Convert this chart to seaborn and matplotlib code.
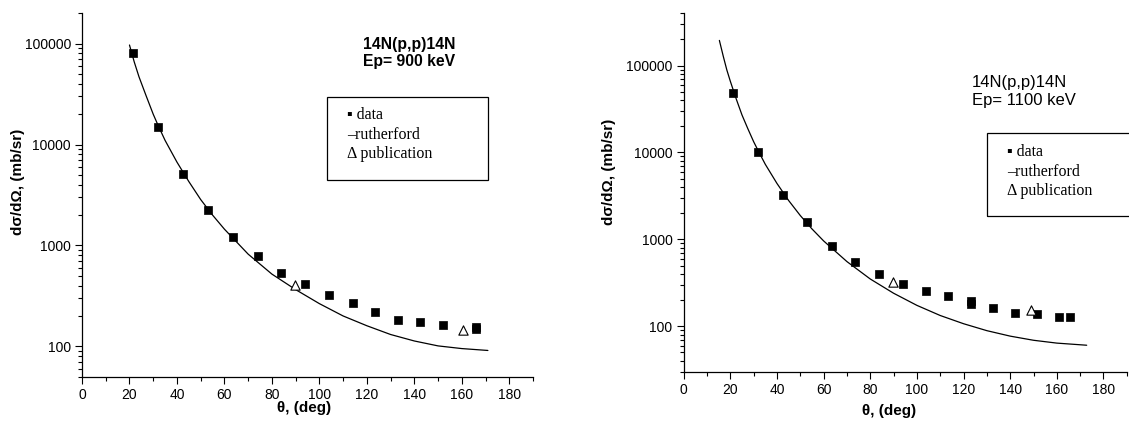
import matplotlib
matplotlib.use("Agg")
import matplotlib.pyplot as plt
from matplotlib.patches import Rectangle
from matplotlib.ticker import MultipleLocator, LogLocator, FuncFormatter, NullFormatter
import seaborn as sns

# ---------------- data: Ep = 900 keV ----------------
theta_900 = [21.5, 32, 42.7, 53, 63.5, 74, 84, 94, 104, 114, 123.5, 133, 142.5, 152, 166, 166]
data_900 = [81500, 15000, 5100, 2260, 1200, 778, 533, 418, 320, 269, 217, 184, 173, 163, 148, 155]
pub_theta_900 = [89.7, 160.5]
pub_900 = [408, 145]
ruth_theta_900 = [20, 22, 24, 27, 30, 32, 35, 40, 45, 50, 55, 60, 70, 80, 90, 100, 110, 120, 130,
                  140, 150, 160, 171]
ruth_900 = [97000, 66000, 47000, 30500, 20000, 15600, 11000, 6700, 4300, 2850, 2000, 1450, 820, 520,
            365, 265, 200, 160, 131, 113, 101, 95, 91]

# ---------------- data: Ep = 1100 keV ----------------
theta_1100 = [21.3, 32, 42.7, 53, 63.5, 73.5, 83.9, 93.9, 103.8, 113.5, 123.1, 123.1, 132.8, 142.1,
              151.6, 160.9, 165.6]
data_1100 = [49000, 10200, 3260, 1570, 838, 545, 400, 310, 257, 221, 197, 181, 161, 141, 139, 128, 128]
pub_theta_1100 = [89.6, 148.8]
pub_1100 = [324, 154]
ruth_theta_1100 = [15.3, 17, 18.5, 20, 22.5, 25, 27.5, 30, 32, 35, 40, 45, 50, 55, 60, 70, 80, 90,
                   100, 110, 120, 130, 140, 150, 160, 172.8]
ruth_1100 = [195000, 127000, 89000, 66000, 41500, 27000, 18800, 13300, 10400, 7300, 4400, 2800, 1880,
             1320, 960, 555, 350, 240, 174, 133, 107, 89, 77, 69, 64, 60.5]

titles = [("14N(p,p)14N\nEp= 900 keV", "bold"), ("14N(p,p)14N\nEp= 1100 keV", "normal")]
legend_text = "\u25aa data\n\u2013rutherford\n\u0394 publication"
xlabel = "\u03b8, (deg)"
ylabel = "d\u03c3/d\u03a9, (mb/sr)"
xticks = [0, 20, 40, 60, 80, 100, 120, 140, 160, 180]

sns.set_style("ticks")
plt.rcParams["font.family"] = ["Liberation Sans", "DejaVu Sans"]
plt.rcParams["text.color"] = "black"
plt.rcParams["axes.labelcolor"] = "black"
plt.rcParams["xtick.color"] = "black"
plt.rcParams["ytick.color"] = "black"

W, H = 1129, 421
fig = plt.figure(figsize=(W / 100, H / 100), dpi=100)
ax1 = fig.add_axes([82 / W, 1 - 376.7 / H, 451 / W, 363.4 / H])
ax2 = fig.add_axes([683.7 / W, 1 - 371.7 / H, 443.1 / W, 358.4 / H])

panels = [
    (ax1, theta_900, data_900, pub_theta_900, pub_900, ruth_theta_900, ruth_900, (50, 200000)),
    (ax2, theta_1100, data_1100, pub_theta_1100, pub_1100, ruth_theta_1100, ruth_1100, (30, 400000)),
]

for ax, th, d, pth, p, rth, r, ylim in panels:
    sns.lineplot(x=rth, y=r, ax=ax, color="black", linewidth=0.9, sort=False, estimator=None)
    sns.scatterplot(x=th, y=d, ax=ax, marker="s", s=32, color="black", edgecolor="black",
                    linewidth=0.5, zorder=3)
    sns.scatterplot(x=pth, y=p, ax=ax, marker="^", s=45, color="white", edgecolor="black",
                    linewidth=0.8, zorder=3)
    ax.set_yscale("log")
    ax.set_xlim(0, 190)
    ax.set_ylim(*ylim)
    ax.set_xticks(xticks)
    ax.xaxis.set_minor_locator(MultipleLocator(10))
    ax.yaxis.set_major_locator(LogLocator(base=10))
    ax.yaxis.set_minor_locator(LogLocator(base=10, subs=range(2, 10)))
    ax.yaxis.set_major_formatter(FuncFormatter(lambda v, pos: f"{int(round(v))}"))
    ax.yaxis.set_minor_formatter(NullFormatter())
    ax.tick_params(which="major", length=5, width=0.8, labelsize=10, color="black",
                   labelcolor="black", pad=3)
    ax.tick_params(which="minor", length=3, width=0.8, color="black")
    for s in ["top", "right"]:
        ax.spines[s].set_visible(False)
    for s in ["left", "bottom"]:
        ax.spines[s].set_linewidth(0.9)
        ax.spines[s].set_color("black")
    ax.set_xlabel("")
    ax.set_ylabel("")
    ax.grid(False)

# axis labels
fig.text(304 / W, 1 - 408 / H, xlabel, ha="center", va="center", fontsize=11, fontweight="bold")
fig.text(889 / W, 1 - 411 / H, xlabel, ha="center", va="center", fontsize=11, fontweight="bold")
fig.text(18 / W, 1 - 182 / H, ylabel, ha="center", va="center", rotation=90, fontsize=11,
         fontweight="bold")
fig.text(609 / W, 1 - 172 / H, ylabel, ha="center", va="center", rotation=90, fontsize=11,
         fontweight="bold")

# titles
fig.text(409 / W, 1 - 52.7 / H, titles[0][0], ha="center", va="center", fontsize=11.3,
         fontweight=titles[0][1], linespacing=1.15, multialignment="center")
fig.text(971.7 / W, 1 - 91.3 / H, titles[1][0], ha="left", va="center", fontsize=12,
         fontweight=titles[1][1], linespacing=1.25)

# legend boxes
fig.add_artist(Rectangle((327.3 / W, 1 - 180 / H), (487.7 - 327.3) / W, (180 - 96.7) / H,
                         transform=fig.transFigure, fill=False, edgecolor="black", linewidth=0.9))
fig.add_artist(Rectangle((987.3 / W, 1 - 216 / H), (1160 - 987.3) / W, (216 - 132.7) / H,
                         transform=fig.transFigure, fill=False, edgecolor="black", linewidth=0.9))
fig.text(347 / W, 1 - 134.7 / H, legend_text, ha="left", va="center", fontsize=11.5,
         family=["Liberation Serif", "DejaVu Serif"], linespacing=1.3)
fig.text(1006.7 / W, 1 - 171.5 / H, legend_text, ha="left", va="center", fontsize=11.5,
         family=["Liberation Serif", "DejaVu Serif"], linespacing=1.3)

fig.savefig("out.png", dpi=100)
